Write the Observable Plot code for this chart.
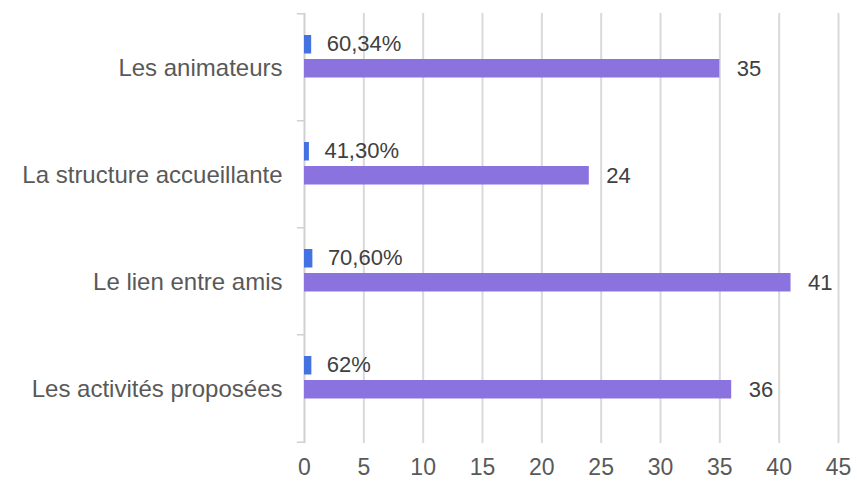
<!DOCTYPE html>
<html><head><meta charset="utf-8">
<script src="https://cdn.jsdelivr.net/npm/d3@7"></script>
<script src="https://cdn.jsdelivr.net/npm/@observablehq/plot@0.6"></script>
<style>
body{margin:0;background:#fff;}
#chart svg{font-family:"Liberation Sans",sans-serif;}
</style></head>
<body><div id="chart"></div>
<script>
const categories = ["Les animateurs", "La structure accueillante", "Le lien entre amis", "Les activités proposées"];
const percentValues = [0.6034, 0.413, 0.706, 0.62];
const percentLabels = ["60,34%", "41,30%", "70,60%", "62%"];
const countValues = [35, 24, 41, 36];
const xTicks = [0, 5, 10, 15, 20, 25, 30, 35, 40, 45];

const rows = categories.map((c, i) => ({
  category: c, pct: percentValues[i], pctLabel: percentLabels[i], count: countValues[i]
}));

const W = 857, H = 482, mT = 13, mB = 39;
const band = (H - mT - mB) / categories.length;
const lastCat = categories[categories.length - 1];

const chart = Plot.plot({
  width: W, height: H,
  marginLeft: 304, marginRight: 19, marginTop: mT, marginBottom: mB,
  style: {fontFamily: "Liberation Sans, sans-serif", fontSize: "24px", color: "#595959", background: "#fff"},
  x: {domain: [0, 45], ticks: xTicks, tickSize: 0, tickPadding: 15, tickFormat: d => String(d), label: null},
  y: {domain: categories, padding: 0, tickSize: 0, tickPadding: 22, label: null},
  marks: [
    Plot.ruleX(xTicks.filter(t => t > 0), {stroke: "#d9d9d9", strokeWidth: 2}),
    Plot.ruleX([0], {stroke: "#d0d0d0", strokeWidth: 2}),
    Plot.barX(rows, {y: "category", x1: -0.6, x2: 0, fill: "#d0d0d0", insetTop: -1, insetBottom: band - 1}),
    Plot.barX(rows.filter(d => d.category === lastCat), {y: "category", x1: -0.6, x2: 0, fill: "#d0d0d0", insetTop: band - 1, insetBottom: -1}),
    Plot.barX(rows, {y: "category", x: "pct", fill: "#4472e0", insetTop: 21, insetBottom: band - 40}),
    Plot.barX(rows, {y: "category", x: "count", fill: "#8a72df", insetTop: 45, insetBottom: band - 64}),
    Plot.text(rows, {y: "category", x: "pct", text: "pctLabel", dx: 15, dy: -24, textAnchor: "start", fill: "#404040", fontSize: 22}),
    Plot.text(rows, {y: "category", x: "count", text: d => String(d.count), dx: 17, dy: 1, textAnchor: "start", fill: "#404040", fontSize: 22})
  ]
});
chart.querySelectorAll('[aria-label="x-axis tick label"] text').forEach(t => t.setAttribute("font-size", "23"));
document.getElementById("chart").appendChild(chart);
</script>
</body></html>
